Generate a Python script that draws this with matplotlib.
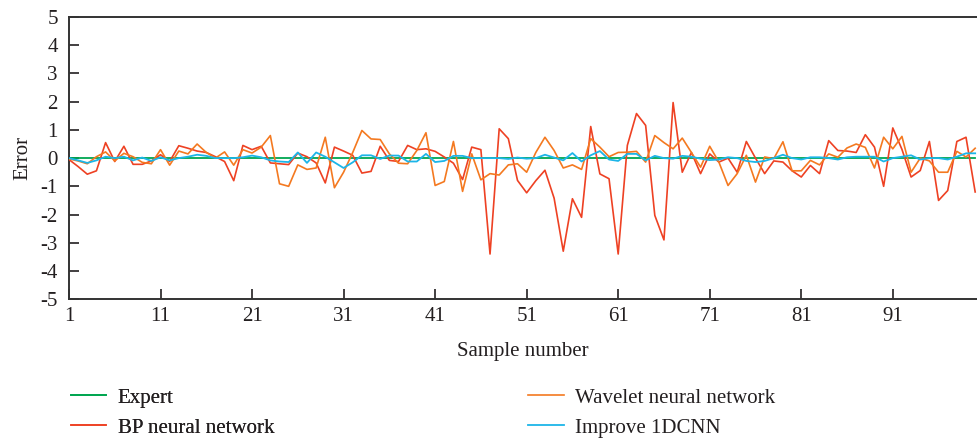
import numpy as np
import matplotlib
matplotlib.use('Agg')
from matplotlib import pyplot as plt

plt.rcParams['font.family'] = ['Liberation Serif', 'DejaVu Serif']
plt.rcParams['axes.unicode_minus'] = False

# data
sample = np.arange(1, 101)

expert = np.zeros(100)

bp = [-0.05, -0.3, -0.57, -0.45, 0.55, -0.12, 0.42, -0.22, -0.22, -0.1,
      0.12, -0.12, 0.44, 0.35, 0.25, 0.2, 0.05, -0.12, -0.8, 0.45,
      0.3, 0.42, -0.17, -0.2, -0.23, 0.18, 0.05, -0.17, -0.88, 0.39,
      0.25, 0.1, -0.53, -0.47, 0.42, -0.08, -0.12, 0.45, 0.3, 0.33,
      0.24, 0.04, -0.18, -0.76, 0.39, 0.3, -3.4, 1.04, 0.69, -0.79,
      -1.23, -0.8, -0.43, -1.42, -3.3, -1.44, -2.1, 1.12, -0.56, -0.73,
      -3.4, 0.45, 1.58, 1.16, -2.03, -2.9, 1.97, -0.5, 0.2, -0.55,
      0.15, -0.14, 0.0, -0.5, 0.59, 0.0, -0.55, -0.1, -0.14, -0.45,
      -0.67, -0.26, -0.55, 0.62, 0.27, 0.25, 0.2, 0.83, 0.39, -1.0,
      1.07, 0.31, -0.67, -0.44, 0.59, -1.5, -1.15, 0.59, 0.74, -1.2]

wavelet = [-0.03, -0.1, -0.2, 0.05, 0.22, -0.1, 0.17, 0.05, -0.15, -0.2,
           0.3, -0.25, 0.25, 0.15, 0.5, 0.2, 0.0, 0.22, -0.25, 0.3,
           0.18, 0.39, 0.8, -0.91, -1.0, -0.24, -0.4, -0.35, 0.74, -1.05,
           -0.5, 0.2, 0.98, 0.68, 0.66, 0.15, -0.18, -0.2, 0.27, 0.9,
           -0.97, -0.83, 0.59, -1.18, 0.15, -0.77, -0.55, -0.6, -0.24, -0.2,
           -0.5, 0.2, 0.74, 0.27, -0.35, -0.24, -0.4, 0.69, 0.39, 0.05,
           0.2, 0.21, 0.24, -0.14, 0.8, 0.55, 0.33, 0.71, 0.2, -0.32,
           0.42, -0.14, -0.97, -0.55, 0.1, -0.85, 0.04, -0.02, 0.58, -0.45,
           -0.45, -0.08, -0.24, 0.15, 0.03, 0.36, 0.5, 0.38, -0.35, 0.74,
           0.33, 0.77, -0.5, 0.0, -0.1, -0.5, -0.5, 0.24, 0.04, 0.35]

cnn = [0.0, -0.08, -0.17, -0.08, 0.05, 0.0, 0.05, -0.08, 0.02, -0.1,
       0.03, -0.08, 0.0, 0.05, 0.12, 0.08, 0.0, 0.0, 0.0, 0.03,
       0.09, 0.03, -0.08, -0.12, -0.14, 0.2, -0.17, 0.2, 0.05, -0.15,
       -0.35, -0.15, 0.1, 0.1, -0.03, 0.09, 0.09, -0.12, -0.12, 0.15,
       -0.14, -0.1, 0.08, 0.08, 0.0, 0.0, 0.0, 0.0, -0.03, 0.02,
       -0.02, 0.0, 0.12, 0.02, -0.08, 0.18, -0.12, 0.1, 0.25, -0.05,
       -0.1, 0.15, 0.15, -0.08, 0.08, 0.0, -0.02, 0.08, 0.05, -0.02,
       -0.07, -0.05, 0.03, 0.0, -0.1, -0.14, -0.1, 0.0, 0.12, 0.0,
       -0.05, 0.03, 0.03, 0.0, -0.05, 0.03, 0.05, 0.05, 0.05, -0.12,
       0.0, 0.05, 0.1, -0.05, 0.0, 0.0, -0.05, 0.05, 0.17, 0.17]

xticks = [1, 11, 21, 31, 41, 51, 61, 71, 81, 91]
yticks = [-5, -4, -3, -2, -1, 0, 1, 2, 3, 4, 5]

txt = '#231f20'
fig = plt.figure(figsize=(9.77, 4.38), dpi=100)
ax = fig.add_axes([0.0706, 0.317, 0.9294, 0.644])

l1, = ax.plot(sample, expert, color='#00a650', lw=1.3, label='Expert', zorder=2)
l2, = ax.plot(sample, bp, color='#ee4123', lw=1.2, label='BP neural network', zorder=3)
l3, = ax.plot(sample, wavelet, color='#f47920', lw=1.2, label='Wavelet neural network', zorder=3)
l4, = ax.plot(sample, cnn, color='#1cb5e8', lw=1.3, label='Improve 1DCNN', zorder=4)

ax.set_xlim(1, 100.2)
ax.set_ylim(-5, 5)
ax.set_xticks(xticks)
ax.set_yticks(yticks)
ax.tick_params(direction='in', length=7, width=1.2, labelsize=15, colors=txt)
ax.tick_params(axis='x', pad=6)
ax.tick_params(axis='y', pad=8)
ax.spines['right'].set_visible(False)
for s in ['left', 'bottom', 'top']:
    ax.spines[s].set_linewidth(1.4)
    ax.spines[s].set_color('#333333')

ax.set_xlabel('Sample number', fontsize=15, color=txt, labelpad=11)
ax.set_ylabel('Error', fontsize=15, color=txt, labelpad=6)

leg1 = fig.legend(handles=[l1, l2], loc='upper left', bbox_to_anchor=(0.064, 0.133),
                  frameon=False, fontsize=15, handlelength=1.7, handletextpad=0.55,
                  labelspacing=0.5, labelcolor=txt, borderaxespad=0)
fig.add_artist(leg1)
fig.legend(handles=[l3, l4], loc='upper left', bbox_to_anchor=(0.532, 0.133),
           frameon=False, fontsize=15, handlelength=1.7, handletextpad=0.55,
           labelspacing=0.5, labelcolor=txt, borderaxespad=0)

plt.savefig('out.png', dpi=100)
